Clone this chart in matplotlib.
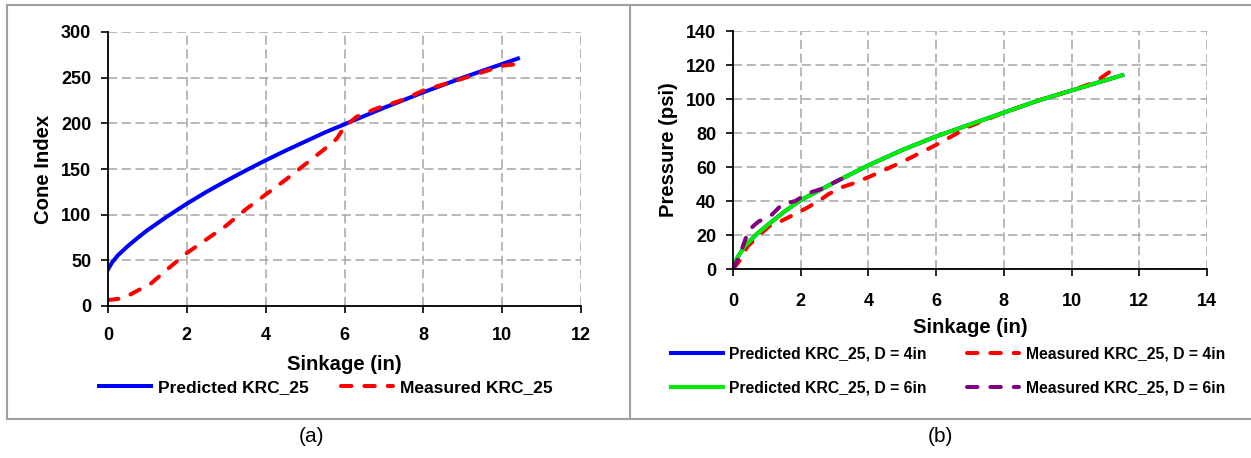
import matplotlib
matplotlib.use("Agg")
import matplotlib.pyplot as plt
from matplotlib.lines import Line2D

plt.rcParams['font.family'] = ['Liberation Sans', 'DejaVu Sans']
plt.rcParams['font.weight'] = 'bold'

# (a) cone index vs sinkage
ci_pred_x = [0, 0.1, 0.25, 0.5, 0.75, 1, 1.5, 2, 2.5, 3, 3.5, 4, 4.5, 5, 5.5, 6, 7, 8, 9, 10, 10.4]
ci_pred_y = [40, 47.5, 55.5, 65.5, 74.5, 83, 98, 112, 125, 137, 148.5, 159.5, 170, 180, 190, 199, 217, 234, 250, 265, 271]
ci_meas_x = [0, 0.3, 0.5, 0.8, 1.1, 1.5, 2, 2.5, 3, 3.5, 4, 4.5, 5, 5.5, 5.8, 6.0, 6.3, 6.8, 7.5, 8, 9, 10, 10.4]
ci_meas_y = [6.5, 8, 11, 18, 25, 40, 58, 73, 88, 106, 122, 138, 155, 172, 183, 196, 207, 216, 226, 236, 249, 263, 265]

# (b) pressure vs sinkage
p_pred_x = [0, 0.05, 0.1, 0.2, 0.35, 0.5, 0.7, 1, 1.5, 2, 3, 4, 5, 6, 7, 8, 9, 10, 11, 11.5]
p_pred_y = [0, 3.5, 5.5, 9, 13.5, 16.5, 20.5, 25.5, 33.5, 40.5, 51, 61, 70, 78, 85, 92, 99, 105, 111, 114]
p_meas4_x = [0, 0.2, 0.42, 0.72, 1.06, 1.4, 1.8, 2.14, 2.53, 2.82, 3.2, 3.5, 4, 5, 6, 7, 8, 9, 10, 10.7, 11.2]
p_meas4_y = [0, 5, 13, 19, 25, 28, 32, 35.5, 40, 44, 48, 50, 54, 63, 73, 84, 92, 99, 105, 110, 117]
p_meas6_x = [0, 0.18, 0.32, 0.47, 0.76, 1.1, 1.45, 1.84, 2.2, 2.6, 3, 3.2]
p_meas6_y = [0, 7, 15, 23, 28, 31, 38, 40, 44.5, 47, 51, 53]

W, H = 1251, 458
fig = plt.figure(figsize=(W / 100, H / 100), dpi=100)


def px(x, y):
    return x / W, 1 - y / H


# panel frames (no right edge, shared divider)
frame = dict(color='#a0a0a0', linewidth=1.5, transform=fig.transFigure)
for (x0, y0), (x1, y1) in [((7, 5), (1251, 5)), ((7, 419), (1251, 419)),
                           ((7, 5), (7, 419)), ((630, 5), (630, 419))]:
    a, b = px(x0, y0)
    c, d = px(x1, y1)
    fig.add_artist(Line2D([a, c], [b, d], **frame))

DASH = (0, (2.6, 3.2))
LW = 2.9


def style_axes(ax):
    ax.grid(True, color='#a6a6a6', linestyle=(0, (6, 3)), linewidth=1.1)
    ax.set_axisbelow(True)
    for s in ['top', 'right']:
        ax.spines[s].set_visible(False)
    for s in ['left', 'bottom']:
        ax.spines[s].set_linewidth(1.3)
    ax.tick_params(direction='out', length=5, width=1.2, labelsize=13)
    ax.tick_params(axis='x', pad=10)
    ax.tick_params(axis='y', pad=7)
    for lab in ax.get_xticklabels() + ax.get_yticklabels():
        lab.set_fontweight('bold')


ax1 = fig.add_axes([108 / W, 1 - 306 / H, 473 / W, 274 / H])
ax1.plot(ci_pred_x, ci_pred_y, color='#0000ff', linewidth=LW, label='Predicted KRC_25')
ax1.plot(ci_meas_x, ci_meas_y, color='#ff0000', linewidth=LW, linestyle=DASH,
         dash_capstyle='round', label='Measured KRC_25')
ax1.set_xlim(0, 12)
ax1.set_ylim(0, 300)
ax1.set_xticks(range(0, 13, 2))
ax1.set_yticks(range(0, 301, 50))
style_axes(ax1)
ax1.set_xlabel('Sinkage (in)', fontsize=14.6, fontweight='bold', labelpad=8)
ax1.set_ylabel('Cone Index', fontsize=14.6, fontweight='bold', labelpad=6)
ax1.legend(loc='center left', bbox_to_anchor=px(83, 387), bbox_transform=fig.transFigure,
           ncol=2, frameon=False, fontsize=12.5, handlelength=3.0, columnspacing=1.9,
           handletextpad=0.4)

ax2 = fig.add_axes([733 / W, 1 - 269 / H, 474 / W, 238 / H])
l1, = ax2.plot(p_pred_x, p_pred_y, color='#0000ff', linewidth=LW, label='Predicted KRC_25, D = 4in')
l2, = ax2.plot(p_meas4_x, p_meas4_y, color='#ff0000', linewidth=LW, linestyle=DASH,
               dash_capstyle='round', label='Measured KRC_25, D = 4in')
l3, = ax2.plot(p_pred_x, p_pred_y, color='#00ee00', linewidth=LW, label='Predicted KRC_25, D = 6in')
l4, = ax2.plot(p_meas6_x, p_meas6_y, color='#800080', linewidth=LW, linestyle=DASH,
               dash_capstyle='round', label='Measured KRC_25, D = 6in')
ax2.set_xlim(0, 14)
ax2.set_ylim(0, 140)
ax2.set_xticks(range(0, 15, 2))
ax2.set_yticks(range(0, 141, 20))
style_axes(ax2)
ax2.tick_params(axis='x', pad=12)
ax2.set_xlabel('Sinkage (in)', fontsize=14.6, fontweight='bold', labelpad=6)
ax2.set_ylabel('Pressure (psi)', fontsize=14.6, fontweight='bold', labelpad=6)
ax2.legend(handles=[l1, l3, l2, l4], loc='center left', bbox_to_anchor=px(657, 371),
           bbox_transform=fig.transFigure, ncol=2, frameon=False, fontsize=11.3,
           handlelength=3.3, columnspacing=2.6, handletextpad=0.4, labelspacing=1.15)

fig.text(*px(312, 437), '(a)', fontsize=15, fontweight='normal', ha='center', va='center')
fig.text(*px(940, 437), '(b)', fontsize=15, fontweight='normal', ha='center', va='center')

fig.savefig('out.png', dpi=100)
